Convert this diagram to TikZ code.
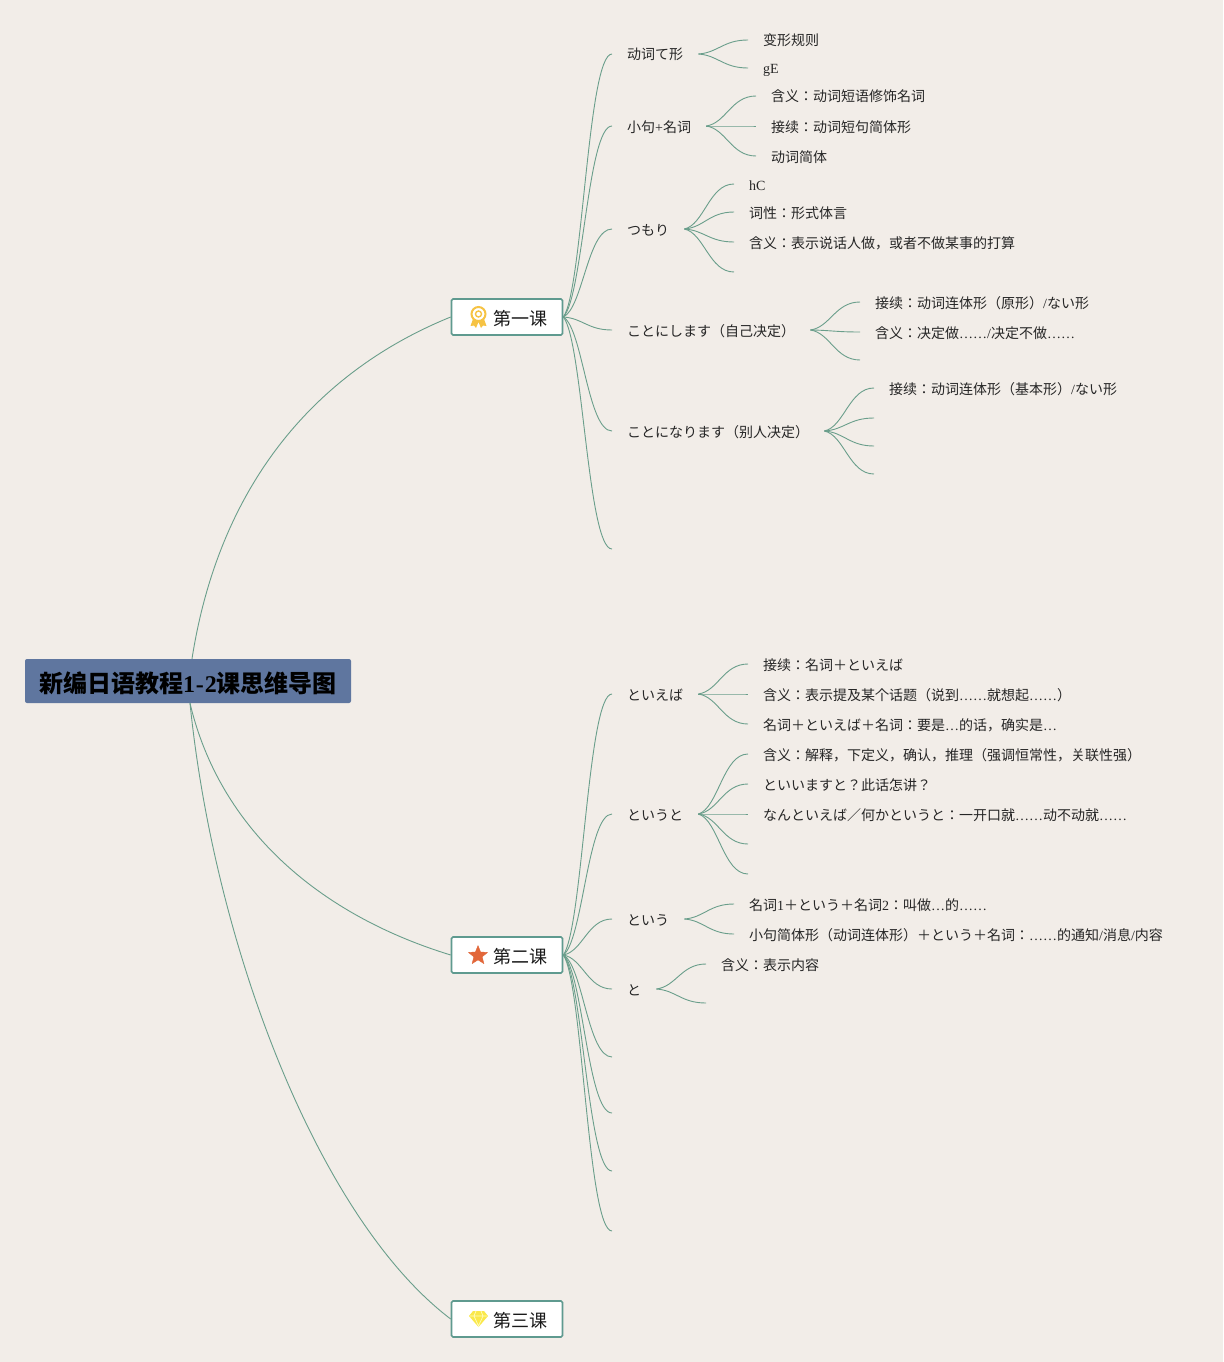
\documentclass[tikz,border=0pt]{standalone}
\usepackage{fontspec}
\setmainfont{Liberation Serif}
\newfontfamily\cjkf{Noto Sans CJK JP}
\usepackage{xcolor}
\usetikzlibrary{calc,shapes.geometric}
\definecolor{paper}{HTML}{F2EDE8}
\definecolor{branchcol}{HTML}{6A9E8B}
\definecolor{framecol}{HTML}{5F9A8F}
\definecolor{rootcol}{HTML}{5F769F}
\definecolor{medalcol}{HTML}{F6C344}
\definecolor{starcol}{HTML}{E2673A}
\definecolor{gemcol}{HTML}{FAE84A}
\newcommand{\la}[1]{{\rmfamily #1}}
\newcommand{\rp}{\kern0pt）}
% S-curve between two named points
\newcommand{\brch}[2]{\draw[branch] let \p1=(#1.east), \p2=(#2.west), \n1={\x2-\x1}, \n2={\y2-\y1} in
  (\p1) .. controls ({\x1+0.4*\n1},{\y1+0.1*\n2}) and ({\x1+0.5*\n1},{\y2}) .. (\p2);}

\begin{document}
\begin{tikzpicture}[
  x=1pt, y=-1pt,
  branch/.style={draw=branchcol, line width=0.9pt},
  root/.style={fill=rootcol, rounded corners=2pt, minimum width=326pt, minimum height=44pt,
               inner sep=0pt, text height=25pt, text depth=3pt, text=black,
               font=\cjkf\bfseries\fontsize{24}{24}\selectfont},
  lesson/.style={draw=framecol, fill=white, line width=1.6pt, rounded corners=1.5pt,
                 minimum width=111pt, minimum height=36pt, inner sep=0pt, text width=111pt,
                 text height=19pt, text depth=3pt, align=left, text=black!90,
                 font=\cjkf\fontsize{18}{18}\selectfont},
  item/.style={anchor=west, inner xsep=15pt, inner ysep=0pt, text height=15pt, text depth=3pt,
               text=black!85, font=\cjkf\fontsize{14}{14}\selectfont}
]
\useasboundingbox (0,0) rectangle (1223,1362);
\fill[paper] (0,0) rectangle (1223,1362);

\node[root] (root) at (188,681) {新编日语教程\la{1\kern1pt-\kern1pt2}课思维导图};
\node[lesson] (kaione) at (507,317) {\hspace{42pt}第一课};
\node[lesson] (kaitwo) at (507,955) {\hspace{42pt}第二课};
\node[lesson] (kaithree) at (507,1319) {\hspace{42pt}第三课};

% icons
\fill[medalcol] (473,319) -- (470.5,326) -- (474,325.5) -- (476,328) -- (478.5,322) -- (481,328) -- (483,325.5) -- (486.5,326) -- (484,319) -- cycle;
\node[circle, draw=medalcol, fill=white, line width=2pt, minimum size=14pt, inner sep=0pt] (medal) at (478.5,314) {};
\node[circle, draw=medalcol, line width=1.4pt, minimum size=6pt, inner sep=0pt] (medalcore) at (478.5,314) {};
\node[star, star points=5, star point ratio=2.3, fill=starcol, draw=starcol,
  line join=round, minimum size=20pt, inner sep=0pt] (staricon) at (478,955.5) {};
\fill[gemcol] (473,1311) -- (484,1311) -- (488,1316) -- (478.5,1327) -- (469,1316) -- cycle;
\draw[yellow!25!white, line width=0.7pt] (470,1316) -- (487,1316) (474,1316) -- (478.5,1326) -- (483,1316) (476,1311) -- (474,1316) (481,1311) -- (483,1316);

% first lesson
\node[item] (dongci) at (612,54) {动词て形};
\node[item] (bianxing) at (748,40) {变形规则};
\node[item] (ge) at (748,68) {\la{gE}};
\node[item] (xiaoju) at (612,126) {小句\la{+}名词};
\node[item] (hanyione) at (756,96) {含义：动词短语修饰名词};
\node[item] (jiexuone) at (756,126) {接续：动词短句简体形};
\node[item] (jianti) at (756,156) {动词简体};
\node[item] (tsumori) at (612,229) {つもり};
\node[item] (hc) at (734,184) {\la{hC}};
\node[item] (cixing) at (734,212) {词性：形式体言};
\node[item] (hanyitwo) at (734,242) {含义：表示说话人做，或者不做某事的打算};
\coordinate (tsumoriend) at (734,272);
\node[item] (nishimasu) at (612,330) {ことにします（自己决定\rp};
\node[item] (jiexutwo) at (860,302) {接续：动词连体形（原形\rp\la{/}ない形};
\node[item] (hanyithree) at (860,332) {含义：决定做\la{……/}决定不做\la{……}};
\coordinate (nishimasuend) at (860,360);
\node[item] (narimasu) at (612,431) {ことになります（别人决定\rp};
\node[item] (jiexuthree) at (874,388) {接续：动词连体形（基本形\rp\la{/}ない形};
\coordinate (narimasua) at (874,418);
\coordinate (narimasub) at (874,446);
\coordinate (narimasuc) at (874,474);
\coordinate (oneend) at (612,549);

% second lesson
\node[item] (toieba) at (612,694) {といえば};
\node[item] (jiexufour) at (748,664) {接续：名词＋といえば};
\node[item] (hanyifour) at (748,694) {含义：表示提及某个话题（说到\la{……}就想起\la{……}\rp};
\node[item] (yaoshi) at (748,724) {名词＋といえば＋名词：要是\la{…}的话，确实是\la{…}};
\node[item] (toiuto) at (612,814) {というと};
\node[item] (hanyifive) at (748,754) {含义：解释，下定义，确认，推理（强调恒常性，关联性强\rp};
\node[item] (toiimasu) at (748,784) {といいますと？此话怎讲？};
\node[item] (nanto) at (748,814) {なんといえば／何かというと：一开口就\la{……}动不动就\la{……}};
\coordinate (toiutoa) at (748,844);
\coordinate (toiutob) at (748,874);
\node[item] (toiu) at (612,919) {という};
\node[item] (jiaozuo) at (734,904) {名词\la{1}＋という＋名词\la{2}：叫做\la{…}的\la{……}};
\node[item] (tongzhi) at (734,934) {小句简体形（动词连体形\rp＋という＋名词：\la{……}的通知\la{/}消息\la{/}内容};
\node[item] (tonode) at (612,989) {と};
\node[item] (hanyisix) at (706,964) {含义：表示内容};
\coordinate (toend) at (706,1003);
\coordinate (twoa) at (612,1057);
\coordinate (twob) at (612,1113);
\coordinate (twoc) at (612,1171);
\coordinate (twod) at (612,1231);

% main arcs
\draw[branch] ([xshift=4pt]root.north) .. controls (220,480) and (320,370) .. (kaione.west);
\draw[branch] ([xshift=2pt]root.south) .. controls (220,830) and (320,915) .. (kaitwo.west);
\draw[branch] ([xshift=2pt]root.south) .. controls (215,950) and (320,1220) .. (kaithree.west);

\foreach \a/\b in {kaione/dongci, kaione/xiaoju, kaione/tsumori, kaione/nishimasu, kaione/narimasu, kaione/oneend,
  dongci/bianxing, dongci/ge, xiaoju/hanyione, xiaoju/jiexuone, xiaoju/jianti,
  tsumori/hc, tsumori/cixing, tsumori/hanyitwo, tsumori/tsumoriend,
  nishimasu/jiexutwo, nishimasu/hanyithree, nishimasu/nishimasuend,
  narimasu/jiexuthree, narimasu/narimasua, narimasu/narimasub, narimasu/narimasuc,
  kaitwo/toieba, kaitwo/toiuto, kaitwo/toiu, kaitwo/tonode, kaitwo/twoa, kaitwo/twob, kaitwo/twoc, kaitwo/twod,
  toieba/jiexufour, toieba/hanyifour, toieba/yaoshi,
  toiuto/hanyifive, toiuto/toiimasu, toiuto/nanto, toiuto/toiutoa, toiuto/toiutob,
  toiu/jiaozuo, toiu/tongzhi, tonode/hanyisix, tonode/toend}
  {\brch{\a}{\b}}

\end{tikzpicture}
\end{document}
